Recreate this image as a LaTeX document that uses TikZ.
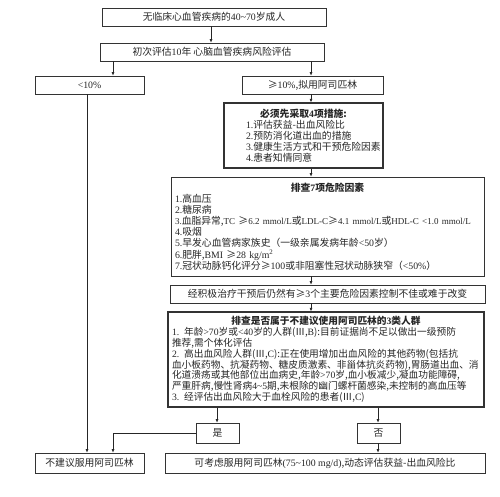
\documentclass[tikz,border=0pt]{standalone}
\usepackage{fontspec}
\setmainfont{Noto Sans CJK SC}
\newfontfamily\lat{Liberation Serif}
\newfontfamily\latn{Liberation Serif}[Scale=0.92]
\usetikzlibrary{arrows.meta}
\newcommand\myfs{\fontsize{9.8}{11.1}\selectfont}
\newcommand\myfsb{\fontsize{9.7}{10.8}\selectfont}
\newcommand\E[1]{{\lat #1}}
\newcommand\En[1]{{\latn #1}}
\newcommand\tld{\textasciitilde}
\begin{document}
\begin{tikzpicture}[x=1pt,y=-1pt,
  box/.style={draw=black!80, line width=0.7pt, inner xsep=4pt, inner ysep=0pt, align=center, font=\myfs, text=black!85},
  thickbox/.style={box, line width=1.3pt},
  arr/.style={draw=black!85, line width=0.6pt, -{Latex[length=3.5pt,width=3pt]}}]
\useasboundingbox[fill=white] (0,0) rectangle (500,496);
\coordinate (c87) at (87,0);
\coordinate (c113) at (113,0);
\coordinate (c211) at (211,0);
\coordinate (c311) at (311,0);
\coordinate (c217) at (217,0);
\coordinate (c378) at (378,0);

\node[box, minimum width=224pt, minimum height=18pt] (b1) at (214,17) {无临床心血管疾病的\E{40\tld70}岁成人};
\node[box, minimum width=224pt, minimum height=18pt] (b2) at (212,52) {初次评估\E{10}年 心脑血管疾病风险评估};
\node[box, minimum width=109pt, minimum height=18pt] (b3) at (89.5,85) {\E{<10\%}};
\node[box, minimum width=141pt, minimum height=18pt] (b4) at (312.5,85) {≥\E{10\%},拟用阿司匹林};
\node[thickbox, text width=151pt, minimum height=65pt, align=left] (b5) at (303.5,135.5)
 {{\centering\bfseries 必须先采取\E{\bfseries 4}项措施:\par}
  \hspace*{18pt}\E{1.}评估获益-出血风险比\\
  \hspace*{18pt}\E{2.}预防消化道出血的措施\\
  \hspace*{18pt}\E{3.}健康生活方式和干预危险因素\\
  \hspace*{18pt}\E{4.}患者知情同意};
\node[box, text width=305pt, minimum height=99pt, align=left] (b6) at (327.5,226.5)
 {{\centering\bfseries 排查\E{\bfseries 7}项危险因素\par}
  \E{1.}高血压\\
  \E{2.}糖尿病\\
  \En{3.}血脂异常,\En{TC }≥\En{6.2 mmol/L}或\En{LDL-C}≥\En{4.1 mmol/L}或\En{HDL-C <1.0 mmol/L}\\
  \E{4.}吸烟\\
  \E{5.}早发心血管病家族史（一级亲属发病年龄\E{<50}岁）\\
  \E{6.}肥胖,\E{BMI }≥\E{28 kg/m\textsuperscript{2}}\\
  \E{7.}冠状动脉钙化评分≥\E{100}或非阻塞性冠状动脉狭窄（\E{<50\%}）};
\node[box, minimum width=315pt, minimum height=18pt] (b7) at (327.5,294) {经积极治疗干预后仍然有≥\E{3}个主要危险因素控制不佳或难于改变};
\node[thickbox, text width=308pt, minimum height=95pt, align=left, font=\myfsb] (b8) at (326,359.5)
 {{\centering\bfseries 排查是否属于不建议使用阿司匹林的\E{\bfseries 3}类人群\par}
  \E{1. }年龄\E{>70}岁或\E{<40}岁的人群(Ⅲ,\E{B}):目前证据尚不足以做出一级预防\\
  推荐,需个体化评估\\
  \E{2. }高出血风险人群(Ⅲ,\E{C}):正在使用增加出血风险的其他药物(包括抗\\
  血小板药物、抗凝药物、糖皮质激素、非甾体抗炎药物),胃肠道出血、消\\
  化道溃疡或其他部位出血病史,年龄\E{>70}岁,血小板减少,凝血功能障碍,\\
  严重肝病,慢性肾病\E{4\tld5}期,未根除的幽门螺杆菌感染,未控制的高血压等\\
  \E{3. }经评估出血风险大于血栓风险的患者(Ⅲ,\E{C})};
\node[box, minimum width=43pt, minimum height=20pt] (b9) at (217.5,433) {是};
\node[box, minimum width=43pt, minimum height=20pt] (b10) at (378.5,433) {否};
\node[box, minimum width=109pt, minimum height=20pt] (b11) at (89.5,463) {不建议服用阿司匹林};
\node[box, minimum width=320pt, minimum height=20pt] (b12) at (325,463) {可考虑服用阿司匹林\E{(75\tld100 mg/d)},动态评估获益-出血风险比};

\draw[arr] (b1.south -| c211) -- (b2.north -| c211);
\draw[arr] (b2.south -| c113) -- (b3.north -| c113);
\draw[arr] (b2.south -| c311) -- (b4.north -| c311);
\draw[arr] (b4.south -| c311) -- (b5.north -| c311);
\draw[arr] (b5.south -| c311) -- (b6.north -| c311);
\draw[arr] (b6.south -| c311) -- (b7.north -| c311);
\draw[arr] (b7.south -| c311) -- (b8.north -| c311);
\draw[arr] (b8.south -| c217) -- (b9.north -| c217);
\draw[arr] (b8.south -| c378) -- (b10.north -| c378);
\draw[arr] (b10.south -| c378) -- (b12.north -| c378);
\draw[arr] (b3.south -| c87) -- (b11.north -| c87);
\draw[arr] (b9.west) -| (b11.north -| c113);
\end{tikzpicture}
\end{document}
